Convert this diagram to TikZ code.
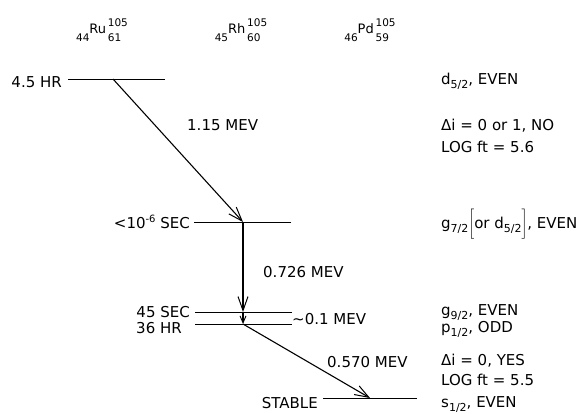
\documentclass[tikz,border=0pt]{standalone}
\usepackage{fontspec}
\setmainfont{DejaVu Sans}
\usetikzlibrary{arrows.meta}

\newcommand{\lo}[1]{\raisebox{-4pt}{\fontsize{11}{11}\selectfont #1}}
\newcommand{\hi}[1]{\raisebox{6pt}{\fontsize{10}{11}\selectfont #1}}
\newcommand{\nuc}[4]{\raisebox{-7.5pt}{\fontsize{10.5}{11}\selectfont #1}#2%
  {\fontsize{10.5}{15}\selectfont\begin{tabular}[c]{@{\,}l@{}}#3\\#4\end{tabular}}}

\begin{document}
\begin{tikzpicture}[x=1pt,y=-1pt,
  lab/.style={inner sep=0pt,font=\fontsize{15}{18}\selectfont},
  hdr/.style={inner sep=0pt,font=\fontsize{13}{15}\selectfont},
  lvl/.style={line width=0.8pt},
  decay/.style={->,>={Straight Barb[length=14pt,width=10pt,line width=1pt]},line width=1.1pt},
  short/.style={->,>={Straight Barb[length=7pt,width=6pt,line width=0.9pt]},line width=1.1pt}]
\useasboundingbox (0,0) rectangle (580,413);

% nuclei
\node[hdr] (N1) at (102,31) {\nuc{44}{Ru}{105}{61}};
\node[hdr] (N2) at (241,31) {\nuc{45}{Rh}{105}{60}};
\node[hdr] (N3) at (370,31) {\nuc{46}{Pd}{105}{59}};

% levels
\coordinate (A1) at (68,79);  \coordinate (A2) at (165,79);
\coordinate (B1) at (194,222); \coordinate (B2) at (291,222);
\coordinate (C1) at (195,312); \coordinate (C2) at (292,312);
\coordinate (D1) at (195,324); \coordinate (D2) at (292,324);
\coordinate (E1) at (323,398); \coordinate (E2) at (417,398);

\draw[lvl] (A1) -- (A2);
\draw[lvl] (B1) -- (B2);
\draw[lvl] (C1) -- (C2);
\draw[lvl] (D1) -- (D2);
\draw[lvl] (E1) -- (E2);

% decays
\coordinate (P1) at (113,79);
\coordinate (P2) at (243,222);
\coordinate (P3) at (243,312);
\coordinate (P4) at (243,324);
\coordinate (P5) at (370,398);

\path[decay] (P1) edge [] (P2);
\path[decay] (P2) edge [] (P3);
\path[short] (P3) edge [] (P4);
\path[decay] (P4) edge [] (P5);

% level names
\node[lab,anchor=base east] (T1) at (62,87) {4.5 HR};
\node[lab,anchor=base east] (T2) at (190,228) {<10\hi{-6} SEC};
\node[lab,anchor=base east] (T3) at (190,317) {45 SEC};
\node[lab,anchor=base east] (T4) at (182,333) {36 HR};
\node[lab,anchor=base east] (T5) at (318,408) {STABLE};

% energies
\node[lab,anchor=base west] (M1) at (187,130) {1.15 MEV};
\node[lab,anchor=base west] (M2) at (263,277) {0.726 MEV};
\node[lab,anchor=base west] (M3) at (292,324) {\textasciitilde0.1 MEV};
\node[lab,anchor=base west] (M4) at (327,367) {0.570 MEV};

% spins
\node[lab,anchor=base west] (S1) at (441,84) {d\lo{5/2}, EVEN};
\node[lab,anchor=base west] (S2) at (441,130) {Δi = 0 or 1, NO};
\node[lab,anchor=base west] (S3) at (441,152) {LOG ft = 5.6};
\node[lab,anchor=base west] (S4) at (441,228) {g\lo{7/2}$\Biggl[$or d\lo{5/2}$\Biggr]$, EVEN};
\node[lab,anchor=base west] (S5) at (441,315) {g\lo{9/2}, EVEN};
\node[lab,anchor=base west] (S6) at (441,332) {p\lo{1/2}, ODD};
\node[lab,anchor=base west] (S7) at (441,365) {Δi = 0, YES};
\node[lab,anchor=base west] (S8) at (441,385) {LOG ft = 5.5};
\node[lab,anchor=base west] (S9) at (441,407) {s\lo{1/2}, EVEN};
\end{tikzpicture}
\end{document}
